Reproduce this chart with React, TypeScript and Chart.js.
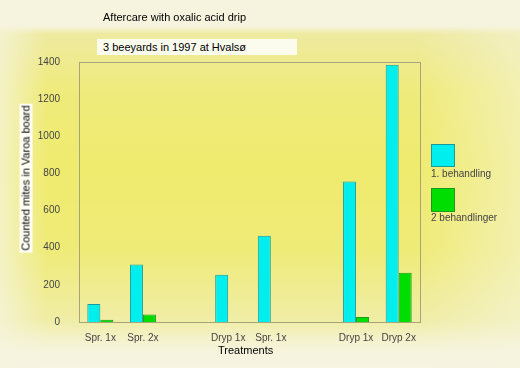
import React, { useEffect, useRef } from "react";
import { Chart, registerables } from "chart.js";

Chart.register(...registerables);

const categories = ["Spr. 1x", "Spr. 2x", "", "Dryp 1x", "Spr. 1x", "", "Dryp 1x", "Dryp 2x"];
const series1Label = "1. behandling";
const series2Label = "2 behandlinger";
const series1 = [97, 310, null, 255, 465, null, 757, 1385];
const series2 = [12, 40, null, null, null, null, 27, 265];
const yTicks = [0, 200, 400, 600, 800, 1000, 1200, 1400];
const titleLine1 = "Aftercare with oxalic acid drip";
const titleLine2 = "3 beeyards in 1997 at Hvalsø";
const yTitle = "Counted mites in Varoa board";
const xTitle = "Treatments";

const frame = {
  id: "frame",
  afterDatasetsDraw(chart: any) {
    const { ctx, chartArea: a } = chart;
    ctx.save();
    ctx.strokeStyle = "#a8a47a";
    ctx.lineWidth = 1;
    ctx.strokeRect(Math.round(a.left) + 0.5, Math.round(a.top) + 0.5, Math.round(a.right - a.left), Math.round(a.bottom - a.top));
    ctx.restore();
  },
};

export default function App() {
  const ref = useRef<HTMLCanvasElement>(null);
  useEffect(() => {
    document.body.style.margin = "0";
    const chart = new Chart(ref.current!, {
      type: "bar",
      data: {
        labels: categories,
        datasets: [
          {
            label: series1Label,
            data: series1 as any,
            backgroundColor: "#00eeee",
            borderColor: "#1a9a9a",
            borderWidth: 1,
            categoryPercentage: 0.61,
            barPercentage: 1,
          },
          {
            label: series2Label,
            data: series2 as any,
            backgroundColor: "#00dd00",
            borderColor: "#1a991a",
            borderWidth: 1,
            categoryPercentage: 0.61,
            barPercentage: 1,
          },
        ],
      },
      options: {
        animation: false,
        responsive: false,
        layout: { padding: { top: 62, right: 100, left: 0, bottom: 0 } },
        plugins: { legend: { display: false }, tooltip: { enabled: false }, title: { display: false } },
        scales: {
          x: {
            grid: { display: false },
            border: { display: false },
            ticks: { color: "#444", font: { family: "Liberation Sans", size: 10 }, padding: 2, maxRotation: 0, autoSkip: false },
            afterFit: (s: any) => { s.height = 46; },
          },
          y: {
            min: 0,
            max: 1400,
            afterBuildTicks: (s: any) => { s.ticks = yTicks.map((v) => ({ value: v })); },
            grid: { display: false },
            border: { display: false },
            ticks: { color: "#444", font: { family: "Liberation Sans", size: 10 }, padding: 11, callback: (v: any) => String(v) },
            afterFit: (s: any) => { s.width = 79; },
          },
        },
      },
      plugins: [frame],
    });
    return () => chart.destroy();
  }, []);

  const text: React.CSSProperties = { position: "absolute", fontFamily: "'Liberation Sans', Arial, sans-serif", fontSize: 11, color: "#000", whiteSpace: "nowrap" };
  return (
    <div style={{ position: "fixed", left: 0, top: 0, width: 520, height: 368, overflow: "hidden",
      background: "linear-gradient(to right, rgba(246,244,222,0.75) 0%, rgba(246,244,222,0) 9%, rgba(246,244,222,0) 80%, rgba(246,244,222,0.55) 100%), linear-gradient(to bottom, #f6f4de 0px, #f6f4de 26px, #eeeaa0 34px, #efeb7c 90px, #efeb6e 170px, #efeb78 250px, #f0eda6 320px, #f4f2cc 340px, #f6f4de 352px, #f6f4e2 368px)" }}>
      <canvas ref={ref} width={520} height={368} style={{ position: "absolute", left: 0, top: 0 }} />
      <div style={{ ...text, left: 103, top: 11 }}>{titleLine1}</div>
      <div style={{ ...text, left: 97, top: 39, width: 200, height: 16, background: "#fbfbee", paddingLeft: 6, boxSizing: "border-box", lineHeight: "16px" }}>{titleLine2}</div>
      <div style={{ ...text, left: 26, top: 178, transform: "translate(-50%,-50%) rotate(-90deg)", background: "#fffff6", padding: "0 2px", lineHeight: "13px" }}>{yTitle}</div>
      <div style={{ ...text, left: 218, top: 344 }}>{xTitle}</div>
      <div style={{ position: "absolute", left: 431, top: 144, width: 24, height: 23, background: "#00eeee", border: "1px solid #1a9a9a", boxSizing: "border-box" }} />
      <div style={{ ...text, left: 431, top: 168, fontSize: 10, color: "#444" }}>{series1Label}</div>
      <div style={{ position: "absolute", left: 431, top: 188, width: 24, height: 24, background: "#00dd00", border: "1px solid #1a991a", boxSizing: "border-box" }} />
      <div style={{ ...text, left: 431, top: 212, fontSize: 10, color: "#444" }}>{series2Label}</div>
    </div>
  );
}
